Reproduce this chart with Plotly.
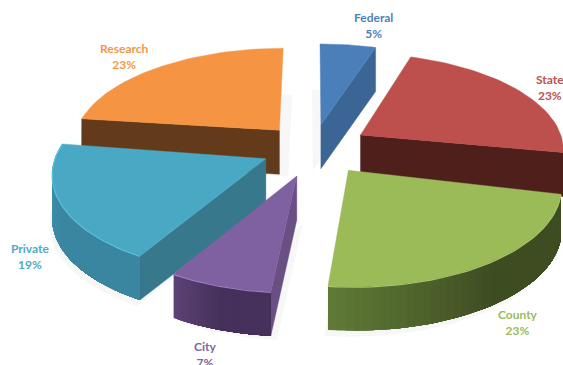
import math
import plotly.graph_objects as go

categories = ["Federal", "State", "County", "City", "Private", "Research"]
values = [5, 23, 23, 7, 19, 23]
percent_labels = ["5%", "23%", "23%", "7%", "19%", "23%"]

top_colors = ["#4b7fba", "#bd4f4c", "#9bbb59", "#7f60a0", "#49a9c4", "#f59543"]
label_colors = ["#4f81bd", "#c0504d", "#9bbb59", "#8064a2", "#4bacc6", "#f79646"]
radial_colors = ["#3a6595", "#4f1f1c", "#40501f", "#6a4f85", "#37788c", "#633a1a"]
rim_from = {"County": "#5f7a36", "Private": "#3f9ab5", "City": "#5c4276"}
rim_to = {"County": "#3e4c22", "Private": "#3a86a0", "City": "#45315b"}
highlight = {"County": "#a9c567", "Private": "#5cc0da", "City": "#9a7dbd"}
pull = {"Federal": 0.25, "State": 0.27, "County": 0.27, "City": 0.27, "Private": 0.24, "Research": 0.25}
tilt_deg = {"County": 2.5, "City": 2.0, "Private": 1.5, "State": 0.0, "Federal": 0.0, "Research": 0.0}
radius = {"County": 0.985, "City": 0.975, "Private": 1.0, "State": 0.98, "Federal": 1.0, "Research": 1.0}
nudge = {"Private": (-2, 0), "City": (0, 2), "County": (0, 1)}
draw_order = ["Federal", "Research", "State", "Private", "County", "City"]
label_pos = {"Federal": (373, 25), "State": (550, 87), "County": (518, 322), "City": (205, 354),
             "Private": (30, 256), "Research": (124, 56)}
shadow_shift = {"Federal": (-8, 2), "Research": (9, 2), "City": (6, 4), "County": (-4, 6), "Private": (-3, 6)}

CX, CY, K, KA, P, H = 313, 148, 208, 97, 0.13, 44

total = sum(values)
angles = {}
run = 0
for c, v in zip(categories, values):
    angles[c] = (run / total * 360, (run + v) / total * 360)
    run += v


def proj(X, Y, c=None):
    w = 1 + P * Y
    dx, dy = nudge.get(c, (0, 0))
    return CX + K * X / w + dx, CY - KA * Y / w + dy


def plane(c, ang, r=1.0):
    a0, a1 = angles[c]
    mid = math.radians((a0 + a1) / 2)
    ox, oy = pull[c] * math.sin(mid), pull[c] * math.cos(mid)
    t = math.radians(ang + tilt_deg[c])
    return ox + r * radius[c] * math.sin(t), oy + r * radius[c] * math.cos(t)


def pt(c, ang, r=1.0):
    return proj(*plane(c, ang, r), c)


def arc(c, a, b, n=40):
    return [pt(c, a + (b - a) * i / n) for i in range(n + 1)]


def mix(c1, c2, t):
    p = [int(c1[i:i + 2], 16) for i in (1, 3, 5)]
    q = [int(c2[i:i + 2], 16) for i in (1, 3, 5)]
    return "rgb(%d,%d,%d)" % tuple(round(a + (b - a) * t) for a, b in zip(p, q))


fig = go.Figure()


def poly(pts, color, width=0.0):
    fig.add_trace(go.Scatter(
        x=[p[0] for p in pts] + [pts[0][0]], y=[p[1] for p in pts] + [pts[0][1]],
        mode="lines", fill="toself", fillcolor=color,
        line=dict(color=color, width=width), hoverinfo="skip", showlegend=False))


def radial_face(c, ang, color):
    apex = pt(c, 0, 0)
    end = pt(c, ang)
    poly([apex, end, (end[0], end[1] + H), (apex[0], apex[1] + H)], color, 0.4)


for c in draw_order:
    i = categories.index(c)
    a0, a1 = angles[c]
    if c in shadow_shift:
        dx, dy = shadow_shift[c]
        sil = [pt(c, 0, 0)] + arc(c, a0, a1)
        poly([(x + dx, y + H + dy) for x, y in sil], "rgba(0,0,0,0.03)")
    if c in ("Federal", "State"):
        radial_face(c, a1, radial_colors[i])
    elif c in ("Research", "Private", "City"):
        radial_face(c, a0, radial_colors[i])
    if c in rim_from:
        n = 40
        span = a1 - a0
        for s in range(n):
            u = s / n
            p = a1 - span * u
            strip_top = arc(c, p, a0, n=n - s)
            strip_bot = [(x, y + H) for x, y in strip_top][::-1]
            poly(strip_top + strip_bot, mix(rim_from[c], rim_to[c], min(1.0, u * 2.0)))
    poly([pt(c, 0, 0)] + arc(c, a0, a1), top_colors[i], 0.4)
    if c in highlight:
        pts = arc(c, a0, a1)
        fig.add_trace(go.Scatter(x=[p[0] for p in pts], y=[p[1] + 0.5 for p in pts], mode="lines",
                                 line=dict(color=highlight[c], width=1.2), hoverinfo="skip", showlegend=False))

for c, p, col in zip(categories, percent_labels, label_colors):
    fig.add_annotation(x=label_pos[c][0], y=label_pos[c][1], text="<b>%s</b><br><b>%s</b>" % (c, p),
                       showarrow=False, font=dict(family="Lato", size=12, color=col), align="center")

fig.update_layout(
    width=563, height=365, margin=dict(l=0, r=0, t=0, b=0),
    paper_bgcolor="white", plot_bgcolor="white", showlegend=False,
    xaxis=dict(range=[0, 563], visible=False, fixedrange=True),
    yaxis=dict(range=[365, 0], visible=False, fixedrange=True),
)
fig.write_html("out.html", config={"displayModeBar": False},
               post_script="document.body.style.margin='0';document.body.style.overflow='hidden';")
